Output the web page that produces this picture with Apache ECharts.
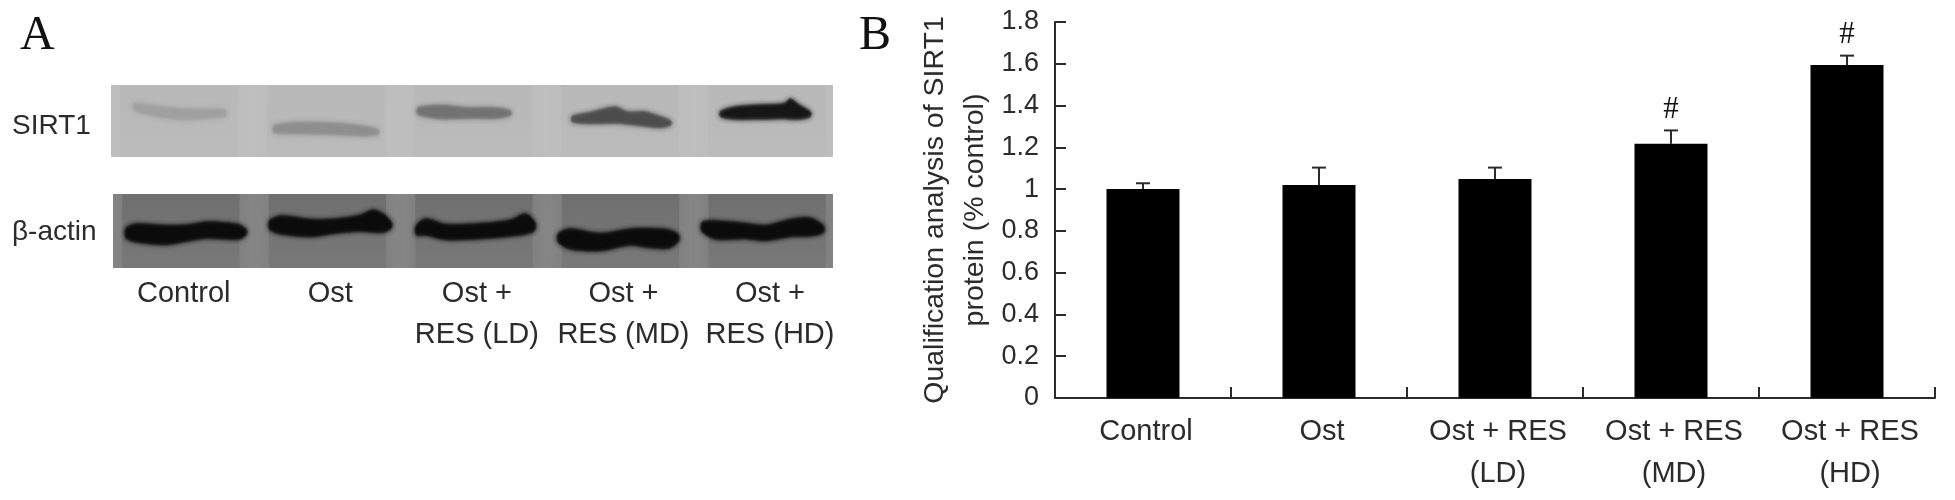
<!DOCTYPE html>
<html>
<head>
<meta charset="utf-8">
<title>SIRT1</title>
<style>
  html, body { margin: 0; padding: 0; background: #fff; }
  #chart { width: 1955px; height: 500px; }
</style>
<script src="https://cdn.jsdelivr.net/npm/echarts@6/dist/echarts.min.js"></script>
</head>
<body>
<div id="chart"></div>
<script>
// panel B
const categories = ['Control', 'Ost', 'Ost + RES\n(LD)', 'Ost + RES\n(MD)', 'Ost + RES\n(HD)']
const sirt1Values = [1.0, 1.02, 1.048, 1.217, 1.594]
const errorTops = [1.028, 1.103, 1.103, 1.281, 1.639]
const marks = ['', '', '', '#', '#']

// panel A
const laneLabels = ['Control', 'Ost', 'Ost +\nRES (LD)', 'Ost +\nRES (MD)', 'Ost +\nRES (HD)']
const laneNumbers = [1, 2, 3, 4, 5]

// band outlines: [lane position, height in strip (0-100), thickness]
const sirt1Bands = [
  [[0.68, 69.4, 3], [0.78, 65.3, 6], [0.99, 59.7, 7], [1.29, 61.1, 3]],
  [[1.63, 38.9, 4], [1.80, 40.3, 8], [2.07, 38.9, 8], [2.24, 36.1, 6], [2.33, 34.7, 2]],
  [[2.61, 63.9, 4], [2.76, 62.5, 10], [2.96, 61.1, 7], [3.13, 61.1, 7], [3.23, 61.1, 2]],
  [[3.66, 52.8, 3], [3.78, 54.2, 8], [3.95, 58.3, 13], [4.03, 54.2, 9], [4.15, 52.8, 11], [4.25, 48.6, 8], [4.32, 47.2, 2]],
  [[4.67, 59.7, 3], [4.76, 61.1, 9], [4.93, 62.5, 11], [5.10, 63.9, 12], [5.14, 66.7, 17], [5.20, 62.5, 11], [5.27, 59.7, 3]],
]
const sirt1Shade = ['#a0a0a0', '#8e8e8e', '#727272', '#4c4c4c', '#161616']
const actinBands = [
  [[0.61, 47.3, 8], [0.68, 47.3, 15], [0.88, 44.6, 16], [1.02, 47.3, 13], [1.16, 51.4, 13], [1.29, 50, 13], [1.38, 48.6, 11], [1.42, 48.6, 4]],
  [[1.59, 58.1, 7], [1.67, 58.1, 15], [1.87, 54.1, 14], [2.04, 56.8, 11], [2.21, 60.8, 13], [2.29, 63.5, 19], [2.36, 60.8, 15], [2.41, 58.1, 5]],
  [[2.59, 51.4, 7], [2.65, 55.4, 13], [2.79, 48.6, 12], [3.03, 50, 12], [3.23, 54.1, 13], [3.33, 59.5, 17], [3.39, 56.8, 7]],
  [[3.56, 40.5, 7], [3.64, 39.2, 17], [3.84, 35.1, 14], [4.05, 41.9, 13], [4.18, 40.5, 16], [4.31, 39.2, 15], [4.37, 40.5, 5]],
  [[4.54, 55.4, 7], [4.63, 51.4, 15], [4.83, 50, 12], [4.97, 47.3, 12], [5.14, 54.1, 14], [5.27, 55.4, 15], [5.36, 52.7, 5]],
]
const actinShade = ['#0b0b0b', '#0b0b0b', '#0b0b0b', '#0b0b0b', '#0b0b0b']

const FONT = '"Liberation Sans", Arial, sans-serif'
const SERIF = '"Liberation Serif", serif'
const INK = '#2b2b2b'

// darker smear behind each lane, lighter gaps come from the grid background
function laneSeries(idx, topColor, bottomColor) {
  return {
    type: 'custom',
    xAxisIndex: idx,
    yAxisIndex: idx,
    silent: true,
    clip: true,
    data: laneNumbers.map((n) => [n - 0.42, n + 0.38]),
    renderItem: function (params, api) {
      const a = api.coord([api.value(0), 100])
      const b = api.coord([api.value(1), 0])
      return {
        type: 'rect',
        shape: { x: a[0], y: a[1] - 10, width: b[0] - a[0], height: b[1] - a[1] + 20 },
        style: {
          fill: new echarts.graphic.LinearGradient(0, 0, 0, 1, [
            { offset: 0, color: topColor },
            { offset: 1, color: bottomColor },
          ]),
          shadowBlur: 18,
          shadowColor: bottomColor,
        },
      }
    },
  }
}

// each band is a few soft polygons stacked, the blot is blurry
function bandSeries(idx, bands, shade) {
  return {
    type: 'custom',
    xAxisIndex: idx,
    yAxisIndex: idx,
    silent: true,
    clip: true,
    data: laneNumbers.map((n) => [n]),
    renderItem: function (params, api) {
      const band = bands[params.dataIndex]
      const outline = function (grow) {
        const upper = []
        const lower = []
        band.forEach((p) => {
          const c = api.coord([p[0], p[1]])
          upper.push([c[0], c[1] - p[2] / 2 - grow])
          lower.unshift([c[0], c[1] + p[2] / 2 + grow])
        })
        const first = upper[0]
        const last = upper[upper.length - 1]
        return [[first[0] - grow, (first[1] + lower[lower.length - 1][1]) / 2]]
          .concat(upper)
          .concat([[last[0] + grow, (last[1] + lower[0][1]) / 2]])
          .concat(lower)
      }
      const color = shade[params.dataIndex]
      const layers = [
        { grow: 3, opacity: 0.2 },
        { grow: 2, opacity: 0.3 },
        { grow: 1, opacity: 0.5 },
        { grow: -1, opacity: 0.9 },
      ]
      return {
        type: 'group',
        children: layers.map((l) => ({
          type: 'polygon',
          shape: { points: outline(l.grow), smooth: 0.3 },
          style: { fill: color, opacity: l.opacity, shadowBlur: 5, shadowColor: color },
        })),
      }
    },
  }
}

const myChart = echarts.init(document.getElementById('chart'))

const laneAxis = {
  type: 'value',
  min: 0.517,
  max: 5.43,
  axisLine: { show: false },
  axisTick: { show: false },
  splitLine: { show: false },
  axisLabel: { show: false },
}
const stripAxis = { type: 'value', min: 0, max: 100, show: false }

const letterStyle = { fontFamily: SERIF, fontWeight: 'normal', fontSize: 48, color: '#111' }
const rowStyle = { fontFamily: FONT, fontWeight: 'normal', fontSize: 28, color: INK }

const option = {
  animation: false,
  backgroundColor: '#fff',
  textStyle: { fontFamily: FONT },
  title: [
    { text: 'A', left: 15, top: 7, textStyle: letterStyle },
    { text: 'B', left: 854, top: 7, textStyle: letterStyle },
    { text: 'SIRT1', left: 7, top: 107, textStyle: rowStyle },
    { text: 'β-actin', left: 7, top: 213, textStyle: rowStyle },
  ],
  grid: [
    { left: 1055, top: 22, width: 880, height: 376 },
    { left: 111, top: 85, width: 722, height: 72, show: true, backgroundColor: '#bfbfbf', borderWidth: 0 },
    { left: 113, top: 194, width: 720, height: 74, show: true, backgroundColor: '#868686', borderWidth: 0 },
  ],
  xAxis: [
    {
      gridIndex: 0,
      type: 'category',
      data: categories,
      boundaryGap: true,
      axisLine: { lineStyle: { color: INK, width: 2 } },
      axisTick: { show: true, inside: true, length: 11, alignWithLabel: false, lineStyle: { color: INK, width: 2 } },
      axisLabel: { color: INK, fontSize: 29, lineHeight: 42, margin: 13, interval: 0, padding: [0, 0, 0, 6], fontFamily: FONT },
    },
    Object.assign({ gridIndex: 1 }, laneAxis),
    Object.assign({ gridIndex: 2 }, laneAxis, {
      axisLabel: {
        show: true,
        customValues: laneNumbers,
        formatter: (v) => laneLabels[laneNumbers.indexOf(v)],
        color: INK,
        fontSize: 29,
        lineHeight: 41,
        margin: 5,
        hideOverlap: false,
        fontFamily: FONT,
      },
    }),
  ],
  yAxis: [
    {
      gridIndex: 0,
      type: 'value',
      min: 0,
      max: 1.8,
      interval: 0.2,
      name: 'Qualification analysis of SIRT1\nprotein (% control)',
      nameLocation: 'middle',
      nameRotate: 90,
      nameGap: 60,
      nameTextStyle: { color: INK, fontSize: 28.5, lineHeight: 40, fontFamily: FONT },
      axisLine: { show: true, lineStyle: { color: INK, width: 2 } },
      axisTick: { show: true, inside: true, length: 11, lineStyle: { color: INK, width: 2 } },
      axisLabel: {
        color: INK,
        fontSize: 27,
        margin: 16,
        padding: [10, 0, 0, 0],
        fontFamily: FONT,
        formatter: (v) => String(Math.round(v * 10) / 10),
      },
      splitLine: { show: false },
    },
    Object.assign({ gridIndex: 1 }, stripAxis),
    Object.assign({ gridIndex: 2 }, stripAxis),
  ],
  series: [
    {
      type: 'bar',
      data: sirt1Values,
      barWidth: 73,
      itemStyle: { color: '#000' },
      silent: true,
    },
    {
      type: 'custom',
      silent: true,
      data: errorTops.map((top, i) => [i, sirt1Values[i], top]),
      renderItem: function (params, api) {
        const base = api.coord([api.value(0), api.value(1)])
        const top = api.coord([api.value(0), api.value(2)])
        const lineStyle = { stroke: INK, lineWidth: 2 }
        const children = [
          { type: 'line', shape: { x1: top[0], y1: base[1], x2: top[0], y2: top[1] }, style: lineStyle },
          { type: 'line', shape: { x1: top[0] - 7, y1: top[1], x2: top[0] + 7, y2: top[1] }, style: lineStyle },
        ]
        const mark = marks[params.dataIndex]
        if (mark) {
          children.push({
            type: 'text',
            style: {
              x: top[0], y: top[1] - 21, text: mark, align: 'center', verticalAlign: 'middle',
              font: '31px ' + SERIF, fill: '#111',
            },
          })
        }
        return { type: 'group', children: children }
      },
    },
    laneSeries(1, '#b8b8b8', '#bbbbbb'),
    bandSeries(1, sirt1Bands, sirt1Shade),
    laneSeries(2, '#6e6e6e', '#7a7a7a'),
    bandSeries(2, actinBands, actinShade),
  ],
}

myChart.setOption(option)

window.addEventListener('resize', function () {
  myChart.resize()
})
</script>
</body>
</html>
